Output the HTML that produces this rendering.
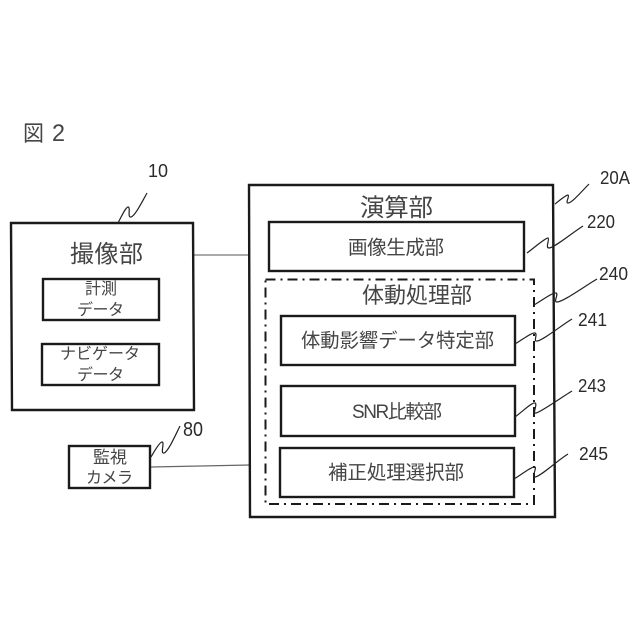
<!DOCTYPE html>
<html lang="ja">
<head>
<meta charset="utf-8">
<title>図2</title>
<style>
html,body{margin:0;padding:0;background:#fff;}
svg{display:block;}
text{font-family:"Liberation Sans","Noto Sans CJK JP",sans-serif;fill:#454545;font-weight:400;}
.n{fill:#2a2a2a;}
.b{fill:none;stroke:#1a1a1a;stroke-width:2.4;}
.s{fill:none;stroke:#222;stroke-width:1.2;stroke-linejoin:round;}
</style>
</head>
<body>
<svg width="640" height="640" viewBox="0 0 640 640" xmlns="http://www.w3.org/2000/svg">
<rect width="640" height="640" fill="#fff"/>

<text x="23" y="141" font-size="22" textLength="21" lengthAdjust="spacingAndGlyphs">図</text>
<text x="52" y="141" font-size="24" textLength="13" lengthAdjust="spacingAndGlyphs">2</text>

<!-- connectors -->
<line x1="193" y1="255" x2="249" y2="255" stroke="#777" stroke-width="1.3"/>
<line x1="151" y1="467" x2="250" y2="465" stroke="#666" stroke-width="1.2"/>

<!-- imaging -->
<polygon class="b" points="11,223 193,223 194,410 12,410"/>
<text x="70" y="262" font-size="24" textLength="73">撮像部</text>
<rect class="b" x="43" y="279" width="116" height="41"/>
<text x="85" y="294" font-size="16" textLength="32">計測</text>
<text x="77" y="315" font-size="16" textLength="47">データ</text>
<rect class="b" x="42" y="344" width="117" height="41"/>
<text x="60" y="359" font-size="16" textLength="80">ナビゲータ</text>
<text x="77" y="380" font-size="16" textLength="47">データ</text>

<!-- camera -->
<rect class="b" x="69" y="446" width="81" height="42"/>
<text x="93" y="463" font-size="17" textLength="34">監視</text>
<text x="86" y="483" font-size="16" textLength="47">カメラ</text>

<!-- main -->
<polygon class="b" points="249,185 553,185 555,517 250,517"/>
<text x="360" y="216" font-size="24.5" textLength="73">演算部</text>
<rect class="b" x="269" y="222" width="255" height="49"/>
<text x="348" y="254" font-size="19.5" textLength="96">画像生成部</text>

<!-- dash-dot -->
<rect x="265.5" y="279.5" width="268.5" height="224.5" fill="none" stroke="#1a1a1a" stroke-width="2" stroke-dasharray="10 5 2 5"/>
<text x="362" y="303" font-size="22" textLength="110">体動処理部</text>

<rect class="b" x="281" y="316" width="234" height="49"/>
<text x="301" y="347" font-size="19.3" textLength="193">体動影響データ特定部</text>
<rect class="b" x="281" y="386" width="234" height="50"/>
<text x="352" y="418" font-size="19" textLength="90">SNR比較部</text>
<rect class="b" x="280" y="448" width="234" height="49"/>
<text x="328" y="479" font-size="19.5" textLength="136">補正処理選択部</text>

<!-- squiggles -->
<path class="s" d="M118,223 C122,215 126,207 128,207 C131,207 127,218 131,217 C135,216 142,202 147,193"/>
<path class="s" d="M151,457 C155,450 160,442 162,442 C165,442 160,454 164,453 C168,452 175,436 180,426"/>
<path class="s" d="M555,204 C560,200 566,195 568,195 C570,196 565,203 568,203 C572,203 582,191 589,184"/>
<path class="s" d="M527,253 C534,248 545,238 548,238 C550,239 545,248 549,248 C554,248 572,233 583,226"/>
<path class="s" d="M534,305 C541,301 553,292 556,293 C559,294 553,302 557,302 C563,302 585,286 597,279"/>
<path class="s" d="M515,344 C522,340 532,332 535,333 C538,334 533,342 537,341 C542,341 562,325 572,319"/>
<path class="s" d="M515,417 C522,412 532,402 535,403 C538,404 532,414 536,413 C541,412 562,397 572,391"/>
<path class="s" d="M514,479 C521,475 532,466 535,467 C537,468 531,478 535,477 C540,477 558,460 568,454"/>

<!-- reference numerals -->
<text class="n" x="148" y="177" font-size="18" textLength="20" lengthAdjust="spacingAndGlyphs">10</text>
<text class="n" x="183" y="436" font-size="20" textLength="20" lengthAdjust="spacingAndGlyphs">80</text>
<text class="n" x="600" y="184" font-size="18" textLength="30" lengthAdjust="spacingAndGlyphs">20A</text>
<text class="n" x="587" y="228" font-size="18" textLength="28" lengthAdjust="spacingAndGlyphs">220</text>
<text class="n" x="599" y="280" font-size="18" textLength="29" lengthAdjust="spacingAndGlyphs">240</text>
<text class="n" x="578" y="326" font-size="18" textLength="29" lengthAdjust="spacingAndGlyphs">241</text>
<text class="n" x="578" y="392" font-size="18" textLength="28" lengthAdjust="spacingAndGlyphs">243</text>
<text class="n" x="579" y="460" font-size="18" textLength="29" lengthAdjust="spacingAndGlyphs">245</text>
</svg>
</body>
</html>
